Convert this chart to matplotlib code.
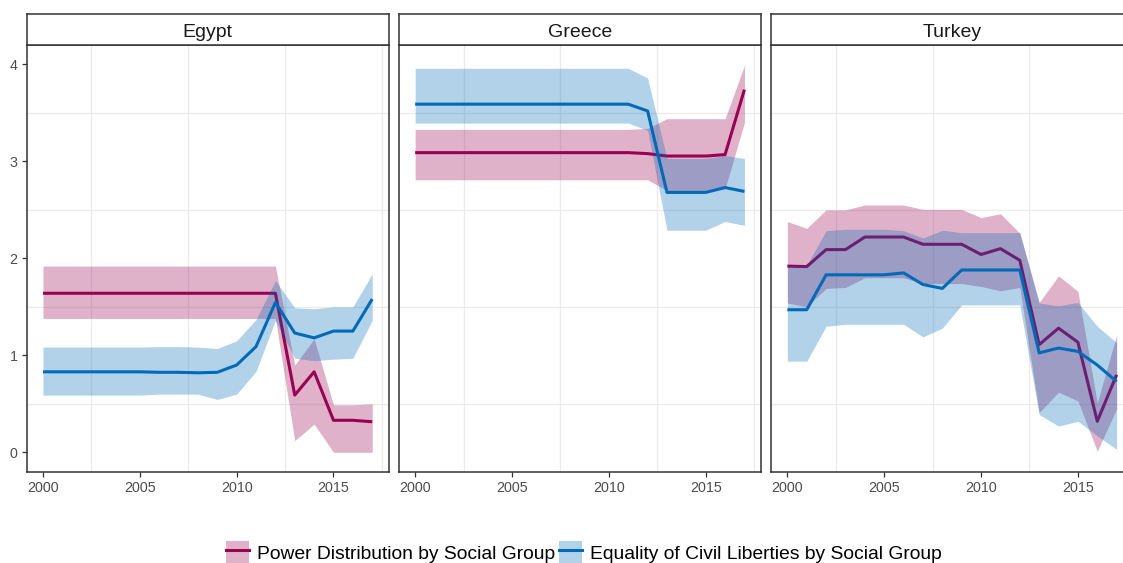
import matplotlib
matplotlib.use("Agg")
import matplotlib.pyplot as plt
from matplotlib.patches import Patch
from matplotlib.lines import Line2D

plt.rcParams['font.family'] = ['Liberation Sans', 'DejaVu Sans']

years = list(range(2000, 2018))
countries = ["Egypt", "Greece", "Turkey"]
series_names = ["Power Distribution by Social Group", "Equality of Civil Liberties by Social Group"]

# ---- Egypt ----
egypt_power = [1.64, 1.64, 1.64, 1.64, 1.64, 1.64, 1.64, 1.64, 1.64, 1.64, 1.64, 1.64, 1.64, 0.59, 0.83, 0.33, 0.33, 0.315]
egypt_power_hi = [1.92, 1.92, 1.92, 1.92, 1.92, 1.92, 1.92, 1.92, 1.92, 1.92, 1.92, 1.92, 1.92, 0.90, 1.17, 0.49, 0.49, 0.50]
egypt_power_lo = [1.38, 1.38, 1.38, 1.38, 1.38, 1.38, 1.38, 1.38, 1.38, 1.38, 1.38, 1.38, 1.38, 0.12, 0.29, 0.0, 0.0, 0.0]
egypt_civil = [0.83, 0.83, 0.83, 0.83, 0.83, 0.83, 0.825, 0.825, 0.82, 0.825, 0.90, 1.09, 1.545, 1.23, 1.18, 1.25, 1.25, 1.58]
egypt_civil_hi = [1.085, 1.085, 1.085, 1.085, 1.085, 1.085, 1.09, 1.09, 1.085, 1.07, 1.15, 1.37, 1.77, 1.49, 1.48, 1.50, 1.50, 1.84]
egypt_civil_lo = [0.59, 0.59, 0.59, 0.59, 0.59, 0.59, 0.60, 0.60, 0.60, 0.545, 0.60, 0.835, 1.36, 0.97, 0.945, 0.96, 0.97, 1.36]

# ---- Greece ----
greece_power = [3.09, 3.09, 3.09, 3.09, 3.09, 3.09, 3.09, 3.09, 3.09, 3.09, 3.09, 3.09, 3.08, 3.055, 3.055, 3.055, 3.07, 3.74]
greece_power_hi = [3.33, 3.33, 3.33, 3.33, 3.33, 3.33, 3.33, 3.33, 3.33, 3.33, 3.33, 3.33, 3.34, 3.44, 3.44, 3.44, 3.44, 3.99]
greece_power_lo = [2.81, 2.81, 2.81, 2.81, 2.81, 2.81, 2.81, 2.81, 2.81, 2.81, 2.81, 2.81, 2.81, 2.70, 2.70, 2.70, 2.72, 3.40]
greece_civil = [3.59, 3.59, 3.59, 3.59, 3.59, 3.59, 3.59, 3.59, 3.59, 3.59, 3.59, 3.59, 3.52, 2.68, 2.68, 2.68, 2.73, 2.69]
greece_civil_hi = [3.96, 3.96, 3.96, 3.96, 3.96, 3.96, 3.96, 3.96, 3.96, 3.96, 3.96, 3.96, 3.86, 3.03, 3.03, 3.03, 3.06, 3.03]
greece_civil_lo = [3.395, 3.395, 3.395, 3.395, 3.395, 3.395, 3.395, 3.395, 3.395, 3.395, 3.395, 3.395, 3.32, 2.29, 2.29, 2.29, 2.38, 2.34]

# ---- Turkey ----
turkey_power = [1.92, 1.915, 2.09, 2.09, 2.22, 2.22, 2.22, 2.145, 2.145, 2.145, 2.04, 2.10, 1.98, 1.11, 1.28, 1.135, 0.32, 0.80]
turkey_power_hi = [2.38, 2.31, 2.50, 2.50, 2.55, 2.55, 2.55, 2.505, 2.505, 2.505, 2.42, 2.46, 2.26, 1.545, 1.82, 1.66, 0.51, 1.21]
turkey_power_lo = [1.54, 1.50, 1.69, 1.70, 1.80, 1.80, 1.80, 1.74, 1.74, 1.74, 1.71, 1.665, 1.70, 0.41, 0.62, 0.53, 0.01, 0.45]
turkey_civil = [1.47, 1.47, 1.83, 1.83, 1.83, 1.83, 1.85, 1.73, 1.69, 1.88, 1.88, 1.88, 1.88, 1.025, 1.075, 1.04, 0.90, 0.73]
turkey_civil_hi = [1.93, 1.93, 2.285, 2.30, 2.30, 2.30, 2.285, 2.21, 2.29, 2.265, 2.265, 2.265, 2.265, 1.54, 1.51, 1.545, 1.30, 1.13]
turkey_civil_lo = [0.94, 0.94, 1.30, 1.32, 1.32, 1.32, 1.32, 1.19, 1.28, 1.52, 1.52, 1.52, 1.52, 0.39, 0.27, 0.32, 0.17, 0.03]

x_ticks = [2000, 2005, 2010, 2015]
y_ticks = [0, 1, 2, 3, 4]

panel_data = {
    "Egypt": (egypt_power, egypt_power_lo, egypt_power_hi, egypt_civil, egypt_civil_lo, egypt_civil_hi),
    "Greece": (greece_power, greece_power_lo, greece_power_hi, greece_civil, greece_civil_lo, greece_civil_hi),
    "Turkey": (turkey_power, turkey_power_lo, turkey_power_hi, turkey_civil, turkey_civil_lo, turkey_civil_hi),
}

power_col = "#990052"
civil_col = "#006ab8"
ribbon_alpha = 0.3
border_col = "#333333"
grid_col = "#ebebeb"
text_col = "#4d4d4d"

W, H = 1123, 563
fig = plt.figure(figsize=(W / 100, H / 100), dpi=100)
fig.patch.set_facecolor("white")

panel_lefts = [26.5, 398.7, 770.9]
panel_w = 362.2
panel_top, panel_bottom = 45.0, 471.7
strip_top = 13.5

for i, (country, left) in enumerate(zip(countries, panel_lefts)):
    p, plo, phi, c, clo, chi = panel_data[country]
    ax = fig.add_axes([left / W, 1 - panel_bottom / H, panel_w / W, (panel_bottom - panel_top) / H])
    ax.fill_between(years, plo, phi, color=power_col, alpha=ribbon_alpha, lw=0, zorder=2)
    ax.plot(years, p, color=power_col, lw=2.2, zorder=3, solid_capstyle="butt")
    ax.fill_between(years, clo, chi, color=civil_col, alpha=ribbon_alpha, lw=0, zorder=4)
    ax.plot(years, c, color=civil_col, lw=2.2, zorder=5, solid_capstyle="butt")

    ax.set_xlim(1999.15, 2017.85)
    ax.set_ylim(-0.2, 4.2)
    ax.set_xticks(x_ticks)
    ax.set_xticks([2002.5, 2007.5, 2012.5, 2017.5], minor=True)
    ax.set_yticks(y_ticks)
    ax.set_yticks([0.5, 1.5, 2.5, 3.5], minor=True)
    ax.grid(which="minor", color=grid_col, lw=0.9, zorder=0)
    ax.grid(which="major", visible=False)
    ax.tick_params(which="minor", length=0)
    ax.tick_params(which="major", length=3.5, width=0.9, color=border_col,
                   labelcolor=text_col, labelsize=10.3, pad=3)
    if i > 0:
        ax.tick_params(axis="y", which="major", left=False, labelleft=False)
    for s in ax.spines.values():
        s.set_color(border_col)
        s.set_linewidth(1.1)
    ax.set_axisbelow(True)

    sax = fig.add_axes([left / W, 1 - panel_top / H, panel_w / W, (panel_top - strip_top) / H])
    sax.set_xticks([])
    sax.set_yticks([])
    sax.set_facecolor("white")
    for s in sax.spines.values():
        s.set_color(border_col)
        s.set_linewidth(1.1)
    sax.text(0.5, (panel_top - 36.7) / (panel_top - strip_top), country, ha="center", va="baseline",
             fontsize=14, color="#1a1a1a", transform=sax.transAxes)

handles = [
    (Patch(facecolor=power_col, alpha=ribbon_alpha, lw=0), Line2D([], [], color=power_col, lw=2.2)),
    (Patch(facecolor=civil_col, alpha=ribbon_alpha, lw=0), Line2D([], [], color=civil_col, lw=2.2)),
]
fig.legend(handles, series_names, loc="center", bbox_to_anchor=(583.5 / W, 1 - 553 / H),
           ncol=2, frameon=False, fontsize=13.9, handlelength=1.2, handleheight=1.6,
           handletextpad=0.4, columnspacing=0.2, borderpad=0, borderaxespad=0)

fig.savefig("out.png", dpi=100, facecolor="white")
